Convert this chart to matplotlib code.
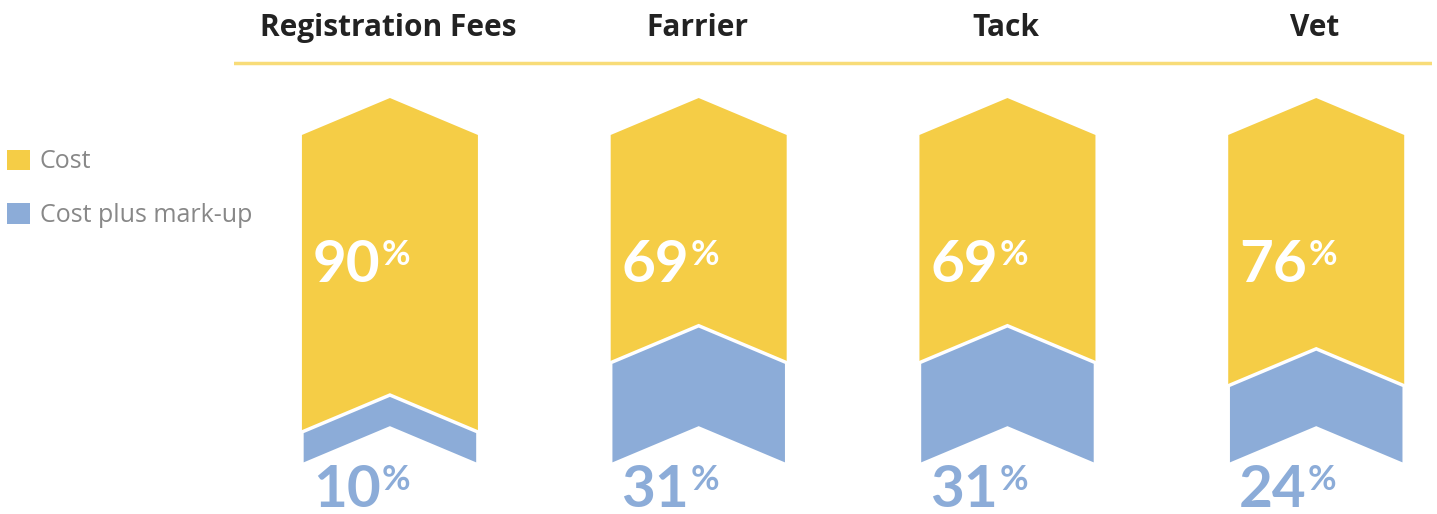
import matplotlib.pyplot as plt
from matplotlib.patches import Polygon, Patch

categories = ['Registration Fees', 'Farrier', 'Tack', 'Vet']
cost = [90, 69, 69, 76]
markup = [10, 31, 31, 24]

YELLOW = '#F5CD46'
BLUE = '#8CACD8'

plt.rcParams['font.family'] = ['Lato', 'DejaVu Sans']

fig = plt.figure(figsize=(14.37, 5.14), dpi=100)
# axes spans full height; 1 percent unit = 3.3 px
ax = fig.add_axes([234 / 1437, 0, 1198 / 1437, 1])
ax.set_xlim(-0.505, 3.375)
ax.set_ylim(-14.85, 140.9)
ax.axis('off')

half = 0.285   # half width of each chevron (x units)
tip = 11.2     # height of the chevron point (y units)


def chevron(xc, y0, y1):
    return [(xc - half, y0), (xc, y0 + tip), (xc + half, y0),
            (xc + half, y1), (xc, y1 + tip), (xc - half, y1)]


for i, (name, c, m) in enumerate(zip(categories, cost, markup)):
    ax.add_patch(Polygon(chevron(i, 0, c + m), closed=True, facecolor=YELLOW,
                         edgecolor='none'))
    ax.add_patch(Polygon(chevron(i, 0, m), closed=True, facecolor=BLUE,
                         edgecolor='white', linewidth=2.5, joinstyle='miter'))

    ax.text(i - 0.005, 132.5, name, ha='center', va='center', fontsize=21.5,
            fontweight='bold', color='#222222', family=['Open Sans', 'DejaVu Sans'])

    t1 = ax.text(i - half + 0.035, 60.5, f'{c}', ha='left', va='center',
                 fontsize=42, fontweight='bold', color='white')
    ax.annotate('%', xy=(1, 1), xycoords=t1, xytext=(1, 0),
                textcoords='offset points', ha='left', va='top',
                fontsize=25, fontweight='bold', color='white')
    t2 = ax.text(i - half + 0.035, -7.6, f'{m}', ha='left', va='center',
                 fontsize=42, fontweight='bold', color=BLUE)
    ax.annotate('%', xy=(1, 1), xycoords=t2, xytext=(1, 0),
                textcoords='offset points', ha='left', va='top',
                fontsize=25, fontweight='bold', color=BLUE)

ax.axhline(121.8, color='#F8DC78', linewidth=2.5)

handles = [Patch(facecolor=YELLOW, edgecolor='none'),
           Patch(facecolor=BLUE, edgecolor='none')]
fig.legend(handles, ['Cost', 'Cost plus mark-up'], loc='upper left',
           bbox_to_anchor=(0, 1 - 142 / 514), frameon=False,
           handlelength=0.88, handleheight=0.88, handletextpad=0.4,
           labelspacing=1.15, borderaxespad=0, borderpad=0.3,
           labelcolor='#888888', prop={'family': ['Open Sans', 'DejaVu Sans'], 'size': 18})

fig.savefig('out.png', dpi=100)
